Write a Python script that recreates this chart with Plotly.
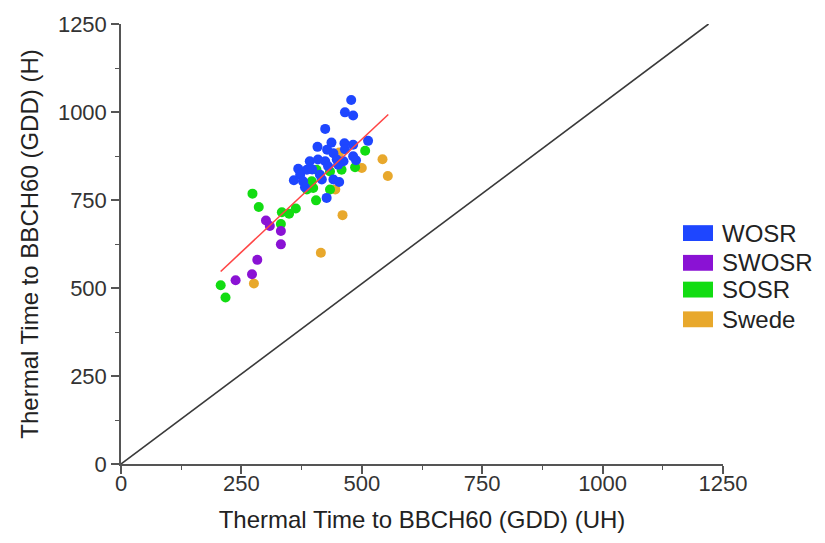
import plotly.graph_objects as go

# ---- data ----
wosr_x = [478, 465, 482, 424, 513, 408, 437, 464, 482, 428, 441, 424, 448, 462, 482, 488,
          392, 368, 386, 372, 359, 378, 382, 413, 417, 441, 453, 427, 451, 430, 409, 465, 397]
wosr_y = [1034, 999, 990, 952, 918, 901, 913, 911, 907, 893, 883, 860, 865, 860, 874, 863,
          860, 839, 836, 822, 806, 803, 786, 822, 808, 808, 801, 756, 850, 846, 865, 894, 837]

swosr_x = [301, 309, 332, 332, 283, 272, 238]
swosr_y = [692, 676, 662, 624, 580, 539, 522]

sosr_x = [273, 286, 207, 217, 334, 349, 363, 332, 405, 386, 396, 399, 434, 434, 458, 486, 507, 406]
sosr_y = [768, 730, 508, 473, 715, 711, 726, 682, 749, 780, 803, 784, 780, 831, 836, 843, 890, 836]

swede_x = [453, 500, 543, 554, 445, 460, 415, 276]
swede_y = [885, 841, 866, 818, 780, 707, 600, 513]

fit_x = [207, 555]
fit_y = [547, 993]

one_x = [0, 1220]
one_y = [0, 1250]

groups = ["WOSR", "SWOSR", "SOSR", "Swede"]
colors = ["#1e46ff", "#8a12d4", "#12dc12", "#e8a82c"]
series = [(wosr_x, wosr_y), (swosr_x, swosr_y), (sosr_x, sosr_y), (swede_x, swede_y)]

tick_vals = [0, 250, 500, 750, 1000, 1250]

FONT = "Liberation Sans, Arial, sans-serif"
fig = go.Figure()

fig.add_trace(go.Scatter(x=one_x, y=one_y, mode="lines",
                         line=dict(color="#3a3a3a", width=1.6), showlegend=False, hoverinfo="skip"))

for name, col, (xs, ys) in zip(reversed(groups), reversed(colors), reversed(series)):
    fig.add_trace(go.Scatter(x=xs, y=ys, mode="markers", name=name,
                             marker=dict(color=col, size=10, line=dict(width=0)),
                             showlegend=False))

fig.add_trace(go.Scatter(x=fit_x, y=fit_y, mode="lines",
                         line=dict(color="#ff4545", width=1.6), showlegend=False, hoverinfo="skip"))

# plot area in pixels
L, R, T, B = 121, 723, 20, 464
W, H = 825, 543

def px(x):
    return (x - L) / (R - L)

def py(y):
    return (B - y) / (B - T)

shapes = []
annotations = []
leg_y = [231, 261, 288, 318]
for name, col, yy in zip(groups, colors, leg_y):
    shapes.append(dict(type="rect", xref="paper", yref="paper",
                       x0=px(683), x1=px(713), y0=py(yy + 8), y1=py(yy - 8),
                       fillcolor=col, line=dict(width=0)))
    annotations.append(dict(text=name, xref="paper", yref="paper", x=px(720), y=py(yy),
                            xanchor="left", yanchor="middle", showarrow=False,
                            font=dict(family=FONT, size=24, color="#222")))

axis_common = dict(
    range=[0, 1250], tickvals=tick_vals, ticks="outside", ticklen=8, tickwidth=1.5,
    tickcolor="#555", showline=True, linecolor="#555", linewidth=1.5, showgrid=False,
    zeroline=False, tickfont=dict(family=FONT, size=22, color="#333"),
    minor=dict(dtick=125, tick0=0, ticks="outside", ticklen=4, tickcolor="#555", tickwidth=1.2, showgrid=False),
)

fig.update_layout(
    width=W, height=H,
    margin=dict(l=L, r=W - R, t=T, b=H - B),
    plot_bgcolor="white", paper_bgcolor="white",
    showlegend=False,
    xaxis=dict(**axis_common, ticklabelstandoff=-9,
               title=dict(text="Thermal Time to BBCH60 (GDD) (UH)", standoff=16,
                          font=dict(family=FONT, size=24, color="#222"))),
    yaxis=dict(**axis_common,
               title=dict(text="Thermal Time to BBCH60 (GDD) (H)", standoff=12,
                          font=dict(family=FONT, size=24, color="#222"))),
    shapes=shapes,
    annotations=annotations,
)

fig.write_html("out.html")
